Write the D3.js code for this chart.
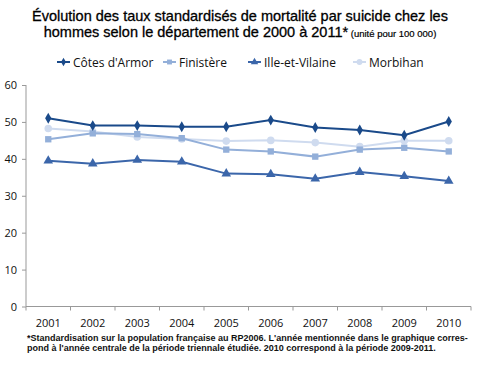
<!DOCTYPE html>
<html>
<head>
<meta charset="utf-8">
<script src="https://cdn.jsdelivr.net/npm/d3@7"></script>
<style>
  body { margin: 0; background: #fff; }
  svg { display: block; }
  .axis text { font-family: "Open Sans", sans-serif; font-size: 11px; fill: #111; }
  .axis path, .axis line { stroke: #999; }
</style>
</head>
<body>
<div id="chart"></div>
<script>
// data
var years = ['2001', '2002', '2003', '2004', '2005', '2006', '2007', '2008', '2009', '2010']
var cotesArmor = [51.0, 49.0, 49.0, 48.7, 48.7, 50.5, 48.5, 47.8, 46.4, 50.1]
var finistere = [45.3, 46.9, 46.7, 45.6, 42.5, 42.0, 40.6, 42.5, 43.0, 42.0]
var illeVilaine = [39.5, 38.7, 39.7, 39.2, 36.0, 35.8, 34.6, 36.4, 35.3, 34.0]
var morbihan = [48.2, 47.4, 45.9, 45.4, 44.8, 45.0, 44.4, 43.3, 44.9, 44.9]
var yTicks = [0, 10, 20, 30, 40, 50, 60]

var series = [
  { name: 'Côtes d\'Armor', values: cotesArmor, color: '#1a4a8a', symbol: d3.symbolDiamond, size: 34 },
  { name: 'Finistère', values: finistere, color: '#93afd9', symbol: d3.symbolSquare, size: 40 },
  { name: 'Ille-et-Vilaine', values: illeVilaine, color: '#3b66aa', symbol: d3.symbolTriangle, size: 40 },
  { name: 'Morbihan', values: morbihan, color: '#cfdbef', symbol: d3.symbolCircle, size: 45 }
]

var width = 480, height = 380
var plot = { left: 26, right: 471, top: 85, bottom: 306.5 }

var svg = d3.select('#chart').append('svg')
  .attr('width', width)
  .attr('height', height)

// title
var title = svg.append('text')
  .attr('x', 240)
  .attr('text-anchor', 'middle')
  .style('font-family', '"Liberation Sans", Arial, sans-serif')
  .style('fill', '#000')
  .style('stroke', '#000')
  .style('stroke-width', 0.3)
title.append('tspan').attr('x', 240).attr('y', 21).style('font-size', '14.5px')
  .text('Évolution des taux standardisés de mortalité par suicide chez les')
var l2 = title.append('tspan').attr('x', 240).attr('y', 37)
l2.append('tspan').style('font-size', '14.5px')
  .text('hommes selon le département de 2000 à 2011*')
l2.append('tspan').style('font-size', '9.5px').style('stroke-width', 0.2)
  .text(' (unité pour 100 000)')

var x = d3.scaleBand()
  .domain(years)
  .range([plot.left, plot.right])

var y = d3.scaleLinear()
  .domain([0, 60])
  .range([plot.bottom, plot.top])

// y axis
var yAxis = d3.axisLeft(y).tickValues(yTicks).tickSize(4).tickPadding(5)
svg.append('g')
  .attr('class', 'axis')
  .attr('transform', 'translate(' + plot.left + ',0)')
  .call(yAxis)
  .call(function(g) { g.select('.domain').attr('d', 'M0,' + plot.top + 'V' + plot.bottom) })

// x axis, ticks sit between the categories
var xg = svg.append('g')
  .attr('class', 'axis')
  .attr('transform', 'translate(0,' + plot.bottom + ')')
xg.append('path')
  .attr('class', 'domain')
  .attr('d', 'M' + plot.left + ',0H' + plot.right)
xg.selectAll('.sep')
  .data(years.concat(['end']))
  .enter().append('line')
  .attr('x1', function(d, i) { return plot.left + i * x.step() })
  .attr('x2', function(d, i) { return plot.left + i * x.step() })
  .attr('y1', 0)
  .attr('y2', 4)
xg.selectAll('.lab')
  .data(years)
  .enter().append('text')
  .attr('x', function(d) { return x(d) + x.bandwidth() / 2 })
  .attr('y', 20)
  .attr('text-anchor', 'middle')
  .text(function(d) { return d })

// lines
var line = d3.line()
  .x(function(d, i) { return x(years[i]) + x.bandwidth() / 2 })
  .y(function(d) { return y(d) })

var draw = series.slice().reverse()
draw.forEach(function(s) {
  var g = svg.append('g')
  g.append('path')
    .datum(s.values)
    .attr('d', line)
    .attr('fill', 'none')
    .attr('stroke', s.color)
    .attr('stroke-width', 2)
  g.selectAll('.pt')
    .data(s.values)
    .enter().append('path')
    .attr('d', d3.symbol().type(s.symbol).size(s.size))
    .attr('transform', function(d, i) {
      return 'translate(' + (x(years[i]) + x.bandwidth() / 2) + ',' + y(d) + ')'
    })
    .attr('fill', s.color)
})

// legend
var legendX = [57, 163, 248, 353]
var legend = svg.selectAll('.legend')
  .data(series)
  .enter().append('g')
  .attr('transform', function(d, i) { return 'translate(' + legendX[i] + ',62)' })
legend.append('line')
  .attr('x1', 0).attr('x2', 13)
  .attr('stroke', function(d) { return d.color })
  .attr('stroke-width', 2)
legend.append('path')
  .attr('d', function(d) { return d3.symbol().type(d.symbol).size(d.size * 0.6)() })
  .attr('transform', 'translate(6.5,0)')
  .attr('fill', function(d) { return d.color })
legend.append('text')
  .attr('x', 16)
  .attr('y', 4.5)
  .style('font-family', '"Open Sans", sans-serif')
  .style('font-size', '12px')
  .style('fill', '#111')
  .text(function(d) { return d.name })

// footnote
var note = svg.append('text')
  .style('font-family', '"Liberation Sans", Arial, sans-serif')
  .style('font-weight', 'bold')
  .style('font-size', '9px')
  .style('fill', '#111')
note.append('tspan').attr('x', 27).attr('y', 340.5)
  .text('*Standardisation sur la population française au RP2006. L\'année mentionnée dans le graphique corres-')
note.append('tspan').attr('x', 27).attr('y', 351)
  .text('pond à l\'année centrale de la période triennale étudiée. 2010 correspond à la période 2009-2011.')
</script>
</body>
</html>
